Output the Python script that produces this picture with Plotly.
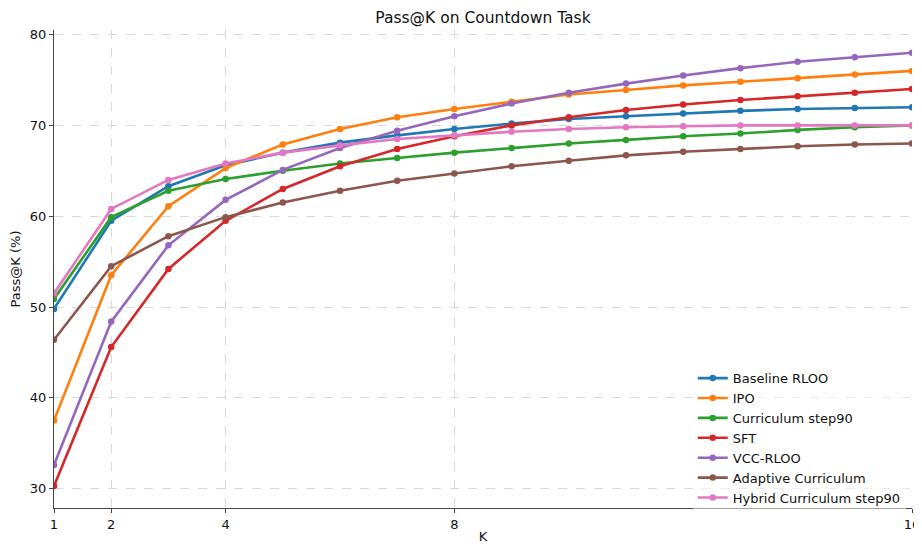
import plotly.graph_objects as go

K = list(range(1, 17))

baseline_rloo = [49.8, 59.5, 63.3, 65.6, 67.0, 68.1, 68.9, 69.6, 70.2, 70.7, 71.0, 71.3, 71.6, 71.8, 71.9, 72.0]
ipo = [37.5, 53.5, 61.1, 65.3, 67.9, 69.6, 70.9, 71.8, 72.6, 73.4, 73.9, 74.4, 74.8, 75.2, 75.6, 76.0]
curriculum_step90 = [50.9, 59.9, 62.8, 64.1, 65.0, 65.8, 66.4, 67.0, 67.5, 68.0, 68.4, 68.8, 69.1, 69.5, 69.8, 70.0]
sft = [30.3, 45.6, 54.2, 59.5, 63.0, 65.5, 67.4, 68.8, 70.0, 70.9, 71.7, 72.3, 72.8, 73.2, 73.6, 74.0]
vcc_rloo = [32.6, 48.4, 56.8, 61.8, 65.1, 67.5, 69.4, 71.0, 72.4, 73.6, 74.6, 75.5, 76.3, 77.0, 77.5, 78.0]
adaptive_curriculum = [46.4, 54.5, 57.8, 59.9, 61.5, 62.8, 63.9, 64.7, 65.5, 66.1, 66.7, 67.1, 67.4, 67.7, 67.9, 68.0]
hybrid_curriculum_step90 = [51.5, 60.8, 64.0, 65.8, 67.0, 67.8, 68.5, 68.9, 69.3, 69.6, 69.8, 69.9, 70.0, 70.0, 70.0, 70.0]

series_names = ["Baseline RLOO", "IPO", "Curriculum step90", "SFT", "VCC-RLOO",
                "Adaptive Curriculum", "Hybrid Curriculum step90"]
series_values = [baseline_rloo, ipo, curriculum_step90, sft, vcc_rloo,
                 adaptive_curriculum, hybrid_curriculum_step90]
colors = ["#1f77b4", "#ff7f0e", "#2ca02c", "#d62728", "#9467bd", "#8c564b", "#e377c2"]

x_ticks = [1, 2, 4, 8, 16]
y_ticks = [30, 40, 50, 60, 70, 80]

fig = go.Figure()
for name, vals, c in zip(series_names, series_values, colors):
    fig.add_trace(go.Scatter(
        x=K, y=vals, name=name, mode="lines+markers",
        line=dict(color=c, width=2.6),
        marker=dict(color=c, size=6.5),
    ))

# page has an 8px body margin; figure is sized to fill the rest of the window
W, H = 914, 536
font_family = "DejaVu Sans, sans-serif"
fig.update_layout(
    width=W, height=H,
    margin=dict(l=46, r=10, t=22, b=36, autoexpand=False),
    paper_bgcolor="white", plot_bgcolor="white",
    font=dict(family=font_family, size=13, color="#222"),
    title=dict(text="Pass@K on Countdown Task", x=(46 + 858 / 2) / W, xanchor="center",
               y=1 - 10 / H, yanchor="middle",
               font=dict(size=15.5, family=font_family, color="#111")),
    showlegend=True,
    legend=dict(x=0.7445, xanchor="left", y=0.303, yanchor="top",
                bgcolor="rgba(255,255,255,0.5)", borderwidth=0,
                font=dict(size=13, family=font_family, color="#111"),
                tracegroupgap=0, itemwidth=30),
)
fig.update_xaxes(
    range=[1, 16], tickvals=x_ticks, ticktext=[str(t) for t in x_ticks],
    showgrid=True, gridcolor="#d9d9d9", griddash="dash", gridwidth=1,
    showline=True, linecolor="#444", linewidth=1.2,
    ticks="outside", ticklen=4, tickcolor="#444",
    zeroline=False, automargin=False, ticklabeloverflow="allow",
    title=dict(text="K", font=dict(size=13, family=font_family, color="#111"), standoff=2),
    tickfont=dict(size=13, color="#111"),
)
fig.update_yaxes(
    range=[27.88, 80.5], tickvals=y_ticks,
    showgrid=True, gridcolor="#d9d9d9", griddash="dash", gridwidth=1,
    showline=True, linecolor="#444", linewidth=1.2,
    ticks="outside", ticklen=4, tickcolor="#444",
    zeroline=False, automargin=False, ticklabeloverflow="allow",
    title=dict(text="Pass@K (%)", font=dict(size=13, family=font_family, color="#111"), standoff=6),
    tickfont=dict(size=13, color="#111"),
)

fig.write_html("out.html")
